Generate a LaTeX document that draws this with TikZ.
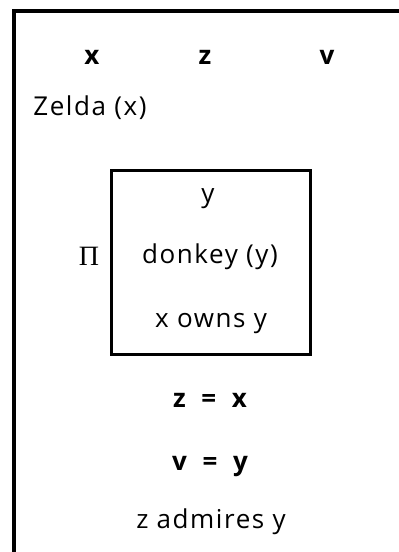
\documentclass[tikz,border=0pt]{standalone}
\usepackage{fontspec}
\setmainfont{Open Sans}[LetterSpace=6]
\newfontfamily\pifont{Liberation Serif}
\usepackage{tikz}
\usetikzlibrary{positioning}
\tikzset{
  drs text/.style={
    font=\fontsize{26}{30}\selectfont,
    inner sep=0pt,
    anchor=base
  },
  drs bold/.style={
    drs text,
    font=\fontsize{26}{30}\selectfont\bfseries
  },
  drs frame/.style={
    draw=black,
    line width=4pt
  },
  sub box/.style={
    draw=black,
    line width=3pt,
    minimum width=199pt,
    minimum height=184pt,
    inner sep=0pt
  }
}
\newcommand{\drseq}{\hspace{0.6em}=\hspace{0.6em}}
\begin{document}
\begin{tikzpicture}[x=1pt, y=-1pt]
  \clip (0,0) rectangle (399,552);
  \fill[white] (0,0) rectangle (399,552);

  % Outer box (cut off at right and bottom)
  \draw[drs frame] (14,11) rectangle (430,590);

  % Referents
  \node[drs bold] (x) at (92,64) {x};
  \node[drs bold] (z) at (205,64) {z};
  \node[drs bold] (v) at (327,64) {v};

  % Conditions
  \node[drs text] (zelda) at (90,115) {Zelda (x)};

  % Sub box
  \node[sub box] (box) at (210.5,262) {};
  \node[drs text] (y) at (208,202) {y};
  \node[drs text] (donkey) at (210,263) {donkey (y)};
  \node[drs text] (owns) at (211,327) {x owns y};
  \node[font=\fontsize{28}{32}\selectfont\pifont, inner sep=0pt, anchor=base] (pi) at (89,265) {Π};

  \node[drs bold] (zx) at (210,407) {z\drseq x};
  \node[drs bold] (vy) at (210,470) {v\drseq y};
  \node[drs text] (admires) at (211,528) {z admires y};
\end{tikzpicture}
\end{document}
